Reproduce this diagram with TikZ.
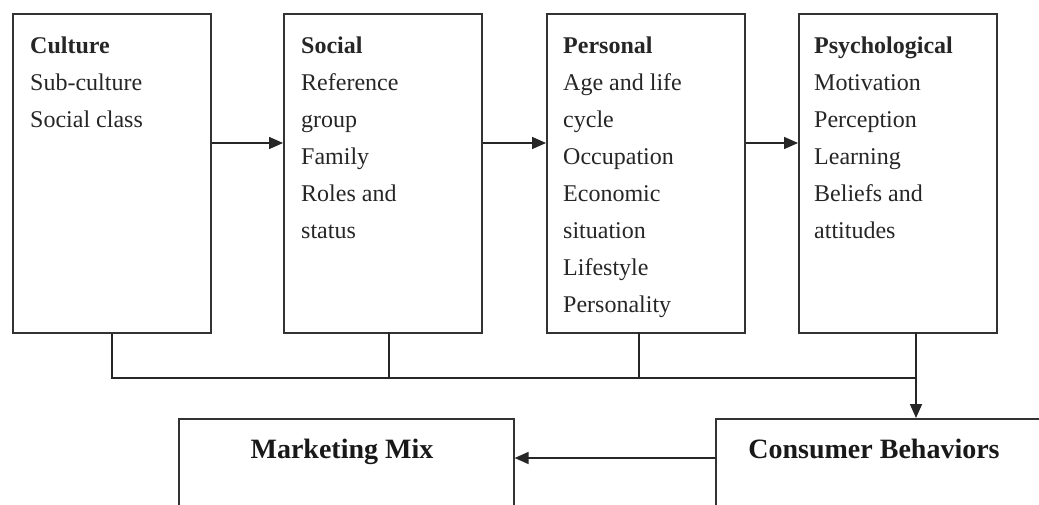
\documentclass[tikz,border=0pt]{standalone}
\usepackage{fontspec}
\setmainfont{Liberation Serif}
\usetikzlibrary{arrows.meta,positioning}

\tikzset{
  factor/.style={draw=black!80, line width=1.6pt, minimum width=198pt, minimum height=319pt, inner sep=0pt, anchor=north west},
  items/.style={anchor=north west, align=left, inner sep=0pt, font=\fontsize{24}{37}\selectfont, text=black!85},
  outcome/.style={draw=black!80, line width=1.6pt, minimum height=200pt, inner sep=0pt, anchor=north west},
  heading/.style={anchor=base, inner sep=0pt, font=\fontsize{28}{32}\selectfont\bfseries, text=black!90},
  link/.style={draw=black!85, line width=1.6pt},
  flow/.style={link, -{Triangle[length=14pt,width=12pt]}}
}

\begin{document}
\begin{tikzpicture}[x=1pt,y=-1pt]
    \useasboundingbox (0,0) rectangle (1039,505);
    \fill[white] (0,0) rectangle (1039,505);
    \clip (0,0) rectangle (1039,505);

    % Define the four factor boxes
    \node [factor] (culture) at (12,13) {};
    \node [factor] (social) at (283,13) {};
    \node [factor] (personal) at (546,13) {};
    \node [factor] (psycho) at (798,13) {};

    % Text in the boxes
    \node [items] (culture-txt) at (30,27) {\strut\textbf{Culture}\\Sub-culture\\Social class};
    \node [items] (social-txt) at (301,27) {\strut\textbf{Social}\\Reference\\group\\Family\\Roles and\\status};
    \node [items] (personal-txt) at (563,27) {\strut\textbf{Personal}\\Age and life\\cycle\\Occupation\\Economic\\situation\\Lifestyle\\Personality};
    \node [items] (psycho-txt) at (814,27) {\strut\textbf{Psychological}\\Motivation\\Perception\\Learning\\Beliefs and\\attitudes};

    % Arrows between the boxes
    \draw [flow] ([yshift=-130pt]culture.north east) -- ([yshift=-130pt]social.north west);
    \draw [flow] ([yshift=-130pt]social.north east) -- ([yshift=-130pt]personal.north west);
    \draw [flow] ([yshift=-130pt]personal.north east) -- ([yshift=-130pt]psycho.north west);

    % Bottom boxes
    \node [outcome, minimum width=335pt] (mix) at (178,418) {};
    \node [outcome, minimum width=400pt] (consumer) at (715,418) {};
    \node [heading] (mix-txt) at (342,458) {Marketing Mix};
    \node [heading] (consumer-txt) at (874,458) {Consumer Behaviors};

    % Lines from the boxes to consumer behaviors
    \coordinate (social-drop) at (389,332);
    \coordinate (personal-drop) at (639,332);
    \coordinate (psycho-drop) at (916,332);
    \coordinate (bus) at (916,378);
    \draw [link] (culture.south) |- (bus);
    \draw [link] (social-drop) -- (social-drop |- bus);
    \draw [link] (personal-drop) -- (personal-drop |- bus);
    \draw [flow] (psycho-drop) -- (psycho-drop |- consumer.north);

    % Consumer behaviors to marketing mix
    \draw [flow] ([yshift=-40pt]consumer.north west) -- ([yshift=-40pt]mix.north east);
\end{tikzpicture}
\end{document}
